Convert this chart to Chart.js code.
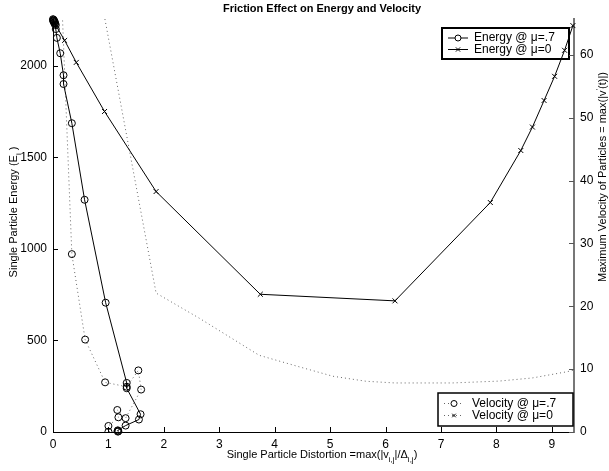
<!DOCTYPE html>
<html>
<head>
<meta charset="utf-8">
<script src="https://cdn.jsdelivr.net/npm/chart.js@4.4.1/dist/chart.umd.min.js"></script>
<style>
  html, body { margin: 0; padding: 0; background: #fff; }
  #wrap { width: 609px; height: 471px; }
</style>
</head>
<body>
<div id="wrap"><canvas id="chart" width="609" height="471"></canvas></div>
<script>
// Energy @ mu=.7  (distortion, energy)
const energyX07 = [0.00, 0.01, 0.00, 0.02, 0.01, 0.03, 0.02, 0.04, 0.03, 0.05, 0.05, 0.07, 0.13, 0.19, 0.19, 0.34, 0.57, 0.95, 1.33, 1.33, 1.58, 1.55, 1.31, 1.17, 1.18, 1.17];
const energy07  = [2254, 2251, 2247, 2246, 2242, 2240, 2236, 2232, 2227, 2222, 2200, 2152, 2068, 1948, 1900, 1686, 1268, 706, 268, 239, 97, 68, 35, 9, 4, 2];

// Energy @ mu=0
const energyX0 = [0.02, 0.21, 0.42, 0.93, 1.86, 3.74, 6.17, 7.89, 8.44, 8.65, 8.86, 9.05, 9.23, 9.38];
const energy0  = [2237, 2138, 2018, 1750, 1313, 752, 716, 1253, 1537, 1665, 1810, 1942, 2084, 2219];

// Velocity @ mu=.7 (right axis)
const velX07 = [0.13, 0.34, 0.58, 0.94, 1.33, 1.54, 1.59, 1.31, 1.16, 1.18, 1.00, 1.00, 1.17];
const vel07  = [75, 28.3, 14.7, 7.9, 7.2, 9.8, 6.75, 2.2, 3.5, 2.34, 0.96, 0.05, 0.2];

// Velocity @ mu=0 (right axis)
const velX0 = [0.42, 0.93, 1.86, 2.64, 3.72, 4.45, 5.05, 5.65, 6.17, 7.20, 8.05, 8.65, 9.25, 9.38];
const vel0  = [110, 66, 22.1, 18.1, 12.2, 10.35, 8.87, 8.07, 7.8, 7.8, 8.1, 8.6, 9.55, 9.8];

const xTicks  = [0, 1, 2, 3, 4, 5, 6, 7, 8, 9];
const yTicks  = [0, 500, 1000, 1500, 2000];
const y1Ticks = [0, 10, 20, 30, 40, 50, 60];

const legendTop    = ['Energy @ \u03bc=.7', 'Energy @ \u03bc=0'];
const legendBottom = ['Velocity @ \u03bc=.7', 'Velocity @ \u03bc=0'];

const FONT = 'Arial, "Liberation Sans", Helvetica, sans-serif';

const toPts = (xs, ys) => xs.map((x, i) => ({ x, y: ys[i] }));
const plain = v => String(v);

// ─── text with sub/superscripts ─────────────────────────────────────────────

function drawRich(ctx, parts, cx, y, size) {
  const small = Math.round(size * 0.72);
  let total = 0;
  parts.forEach(p => {
    ctx.font = (p.s ? small : size) + 'px ' + FONT;
    p.w = ctx.measureText(p.t).width;
    total += p.w;
  });
  let x = cx - total / 2;
  ctx.textAlign = 'left';
  ctx.textBaseline = 'alphabetic';
  parts.forEach(p => {
    ctx.font = (p.s ? small : size) + 'px ' + FONT;
    const dy = p.s === 'sub' ? size * 0.35 : p.s === 'sup' ? -size * 0.45 : 0;
    ctx.fillText(p.t, x, y + dy);
    x += p.w;
  });
}

const labelsPlugin = {
  id: 'labels',
  afterDraw(chart) {
    const ctx = chart.ctx;
    ctx.save();
    ctx.fillStyle = '#000';
    ctx.font = 'bold 11px ' + FONT;
    ctx.textAlign = 'center';
    ctx.textBaseline = 'alphabetic';
    ctx.fillText('Friction Effect on Energy and Velocity', 322, 12);

    drawRich(ctx, [
      { t: 'Single Particle Distortion =max(|v' },
      { t: 'i,j', s: 'sub' },
      { t: '|/\u0394' },
      { t: 'i,j', s: 'sub' },
      { t: ')' }
    ], 322, 458, 11);

    ctx.save();
    ctx.translate(17, 212);
    ctx.rotate(-Math.PI / 2);
    drawRich(ctx, [
      { t: 'Single Particle Energy (E' },
      { t: 'i', s: 'sub' },
      { t: ' )' }
    ], 0, 0, 11);
    ctx.restore();

    ctx.save();
    ctx.translate(606, 177);
    ctx.rotate(-Math.PI / 2);
    drawRich(ctx, [
      { t: 'Maximum Velocity of Particles = max(|v' },
      { t: "'", s: 'sup' },
      { t: '(t)|)' }
    ], 0, 0, 11);
    ctx.restore();
    ctx.restore();
  }
};

// ─── inward tick marks (matlab style) ───────────────────────────────────────

const ticksPlugin = {
  id: 'inwardTicks',
  afterDatasetsDraw(chart) {
    const { ctx, chartArea: a, scales } = chart;
    ctx.save();
    ctx.lineWidth = 1;
    ctx.strokeStyle = '#000';
    ctx.beginPath();
    scales.x.ticks.forEach(t => {
      const px = Math.round(scales.x.getPixelForValue(t.value)) + 0.5;
      ctx.moveTo(px, a.bottom);
      ctx.lineTo(px, a.bottom - 5);
    });
    scales.y.ticks.forEach(t => {
      const py = Math.round(scales.y.getPixelForValue(t.value)) + 0.5;
      ctx.moveTo(a.left, py);
      ctx.lineTo(a.left + 5, py);
    });
    ctx.stroke();
    ctx.strokeStyle = '#555';
    ctx.beginPath();
    scales.y1.ticks.forEach(t => {
      const py = Math.round(scales.y1.getPixelForValue(t.value)) + 0.5;
      ctx.moveTo(a.right, py);
      ctx.lineTo(a.right - 5, py);
    });
    ctx.stroke();
    ctx.restore();
  }
};

// ─── the two legend boxes ───────────────────────────────────────────────────

function legendBox(ctx, box, entries, rowY, lineW) {
  ctx.fillStyle = '#fff';
  ctx.fillRect(box.x, box.y, box.w, box.h);
  ctx.lineWidth = lineW;
  ctx.strokeStyle = '#000';
  ctx.strokeRect(box.x, box.y, box.w, box.h);
  entries.forEach((e, i) => {
    const y = rowY[i];
    ctx.save();
    ctx.strokeStyle = e.dashed ? '#666' : '#000';
    ctx.lineWidth = 1;
    ctx.setLineDash(e.dashed ? [1, 3] : []);
    ctx.beginPath();
    ctx.moveTo(box.x + 6, y);
    ctx.lineTo(box.x + 26, y);
    ctx.stroke();
    ctx.restore();
    ctx.save();
    ctx.lineWidth = 1;
    ctx.strokeStyle = '#000';
    ctx.fillStyle = '#fff';
    Chart.helpers.drawPoint(ctx, { pointStyle: e.marker, radius: e.r, borderWidth: 1, rotation: 0 }, box.x + 16, y);
    ctx.restore();
    ctx.fillStyle = '#000';
    ctx.font = '12px ' + FONT;
    ctx.textAlign = 'left';
    ctx.textBaseline = 'middle';
    ctx.fillText(e.text, box.x + e.tx, y);
  });
}

const legendsPlugin = {
  id: 'boxLegends',
  beforeDatasetsDraw(chart) {
    const ctx = chart.ctx;
    ctx.save();
    legendBox(ctx, { x: 442, y: 28, w: 127, h: 31 }, [
      { text: legendTop[0], marker: 'circle', r: 3, tx: 32 },
      { text: legendTop[1], marker: 'crossRot', r: 3, tx: 32 }
    ], [38, 49.5], 2);
    legendBox(ctx, { x: 438, y: 393, w: 135, h: 33 }, [
      { text: legendBottom[0], marker: 'circle', r: 3, tx: 34, dashed: true },
      { text: legendBottom[1], marker: 'crossRot', r: 2.5, tx: 34, dashed: true }
    ], [403.5, 415.5], 1.5);
    ctx.restore();
  }
};

const ctx = document.getElementById('chart').getContext('2d');

new Chart(ctx, {
  type: 'scatter',
  data: {
    datasets: [
      {
        label: legendTop[0],
        data: toPts(energyX07, energy07),
        yAxisID: 'y',
        showLine: true,
        borderColor: '#000',
        borderWidth: 1,
        pointStyle: 'circle',
        pointRadius: 3.5,
        pointBorderWidth: 1,
        pointBorderColor: '#000',
        pointBackgroundColor: 'rgba(0,0,0,0)',
        clip: 5
      },
      {
        label: legendTop[1],
        data: toPts(energyX0, energy0),
        yAxisID: 'y',
        showLine: true,
        borderColor: '#000',
        borderWidth: 1,
        pointStyle: 'crossRot',
        pointRadius: 3.5,
        pointBorderWidth: 1,
        pointBorderColor: '#000',
        clip: 5
      },
      {
        label: legendBottom[0],
        data: toPts(velX07, vel07),
        yAxisID: 'y1',
        showLine: true,
        borderColor: '#666',
        borderWidth: 1,
        borderDash: [1, 3],
        pointStyle: 'circle',
        pointRadius: 3.5,
        pointBorderWidth: 1,
        pointBorderColor: '#000',
        pointBackgroundColor: 'rgba(0,0,0,0)',
        clip: 0
      },
      {
        label: legendBottom[1],
        data: toPts(velX0, vel0),
        yAxisID: 'y1',
        showLine: true,
        borderColor: '#666',
        borderWidth: 1,
        borderDash: [1, 3],
        pointRadius: 0,
        clip: 0
      }
    ]
  },
  options: {
    responsive: false,
    animation: false,
    layout: { padding: { top: 19, left: 0, right: 0, bottom: 0 } },
    plugins: {
      legend: { display: false },
      tooltip: { enabled: false },
      title: { display: false }
    },
    scales: {
      x: {
        type: 'linear',
        min: 0,
        max: 9.4,
        afterBuildTicks: s => { s.ticks = xTicks.map(v => ({ value: v })); },
        afterFit: s => { s.height = 39; },
        grid: { drawOnChartArea: false, drawTicks: false },
        border: { color: '#000', width: 1 },
        ticks: { color: '#000', padding: 5, font: { size: 12, family: FONT }, maxRotation: 0, callback: plain }
      },
      y: {
        type: 'linear',
        position: 'left',
        min: 0,
        max: 2255,
        afterBuildTicks: s => { s.ticks = yTicks.map(v => ({ value: v })); },
        afterFit: s => { s.width = 53; },
        grid: { drawOnChartArea: false, drawTicks: false },
        border: { color: '#000', width: 1 },
        ticks: { color: '#000', padding: 6, font: { size: 12, family: FONT }, callback: plain }
      },
      y1: {
        type: 'linear',
        position: 'right',
        min: 0,
        max: 65.7,
        afterBuildTicks: s => { s.ticks = y1Ticks.map(v => ({ value: v })); },
        afterFit: s => { s.width = 35; },
        grid: { drawOnChartArea: false, drawTicks: false },
        border: { color: '#777', width: 2 },
        ticks: { color: '#000', padding: 6, font: { size: 12, family: FONT }, callback: plain }
      }
    }
  },
  plugins: [legendsPlugin, ticksPlugin, labelsPlugin]
});
</script>
</body>
</html>
